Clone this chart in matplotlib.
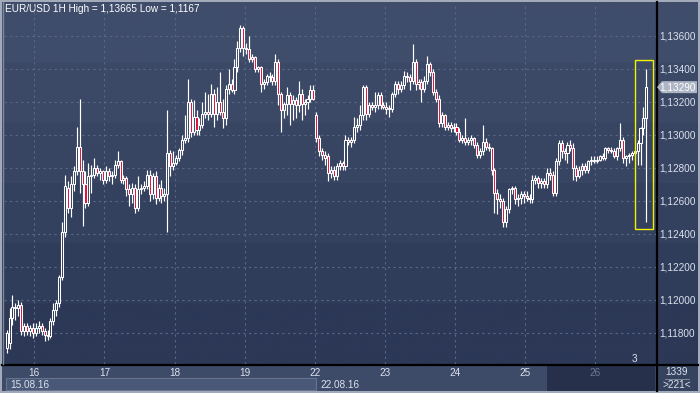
"""
EUR/USD 1H candlestick chart, 15.08.16 - 26.08.16
"""

import matplotlib
matplotlib.use('Agg')
import matplotlib.pyplot as plt
import numpy as np
from matplotlib.patches import Rectangle, Polygon
from matplotlib.colors import LinearSegmentedColormap

plt.rcParams['font.family'] = ['Liberation Sans', 'DejaVu Sans']

# ========== data: hourly OHLC ==========
opens = [
    # 15.08
    1.1171, 1.1174, 1.1189, 1.1196, 1.1195, 1.1197, 1.1181, 1.1184, 1.1181, 1.1183,
    # 16.08
    1.1180, 1.1183, 1.1184, 1.1181, 1.1179, 1.1178, 1.1187, 1.1194, 1.1198, 1.1214, 1.1241, 1.1268,
    1.1256, 1.1270, 1.1278, 1.1293, 1.1278, 1.1270, 1.1259, 1.1275, 1.1276, 1.1280, 1.1277, 1.1278,
    # 17.08
    1.1273, 1.1278, 1.1275, 1.1276, 1.1282, 1.1284, 1.1273, 1.1274, 1.1267, 1.1264, 1.1268, 1.1256,
    1.1267, 1.1268, 1.1269, 1.1276, 1.1264, 1.1275, 1.1262, 1.1268, 1.1263, 1.1264, 1.1289, 1.1281,
    # 18.08
    1.1283, 1.1286, 1.1291, 1.1297, 1.1298, 1.1320, 1.1302, 1.1311, 1.1303, 1.1306, 1.1313, 1.1314,
    1.1313, 1.1325, 1.1313, 1.1320, 1.1314, 1.1310, 1.1328, 1.1331, 1.1327, 1.1341, 1.1353, 1.1365,
    # 19.08
    1.1353, 1.1352, 1.1346, 1.1347, 1.1340, 1.1341, 1.1331, 1.1332, 1.1336, 1.1335, 1.1333, 1.1344,
    1.1325, 1.1315, 1.1319, 1.1324, 1.1319, 1.1321, 1.1318, 1.1325, 1.1319, 1.1320, 1.1322, 1.1327,
    # 22.08
    1.1312, 1.1298, 1.1290, 1.1288, 1.1287, 1.1277, 1.1279, 1.1275, 1.1281, 1.1283, 1.1281, 1.1297,
    1.1296, 1.1297, 1.1305, 1.1306, 1.1312, 1.1329, 1.1313, 1.1318, 1.1317, 1.1318, 1.1324, 1.1318,
    # 23.08
    1.1317, 1.1316, 1.1316, 1.1325, 1.1331, 1.1328, 1.1330, 1.1336, 1.1335, 1.1333, 1.1344, 1.1331,
    1.1332, 1.1328, 1.1333, 1.1343, 1.1338, 1.1326, 1.1322, 1.1307, 1.1312, 1.1305, 1.1306, 1.1304,
    # 24.08
    1.1305, 1.1302, 1.1297, 1.1298, 1.1296, 1.1297, 1.1298, 1.1294, 1.1288, 1.1290, 1.1296, 1.1293,
    1.1292, 1.1279, 1.1265, 1.1261, 1.1260, 1.1247, 1.1255, 1.1267, 1.1268, 1.1261, 1.1262, 1.1264,
    # 25.08
    1.1263, 1.1262, 1.1261, 1.1273, 1.1274, 1.1271, 1.1272, 1.1270, 1.1277, 1.1276, 1.1265, 1.1284,
    1.1295, 1.1290, 1.1289, 1.1294, 1.1292, 1.1280, 1.1275, 1.1279, 1.1281, 1.1279, 1.1284, 1.1285,
    # 26.08
    1.1284, 1.1285, 1.1287, 1.1286, 1.1292, 1.1291, 1.1290, 1.1287, 1.1292, 1.1297, 1.1286, 1.1287,
    1.1288, 1.1289, 1.1290, 1.1295, 1.1304, 1.1310,
]
highs = [
    1.1182, 1.1195, 1.1203, 1.1198, 1.1200, 1.1199, 1.1186, 1.1186, 1.1185, 1.1186,
    1.1186, 1.1187, 1.1186, 1.1183, 1.1182, 1.1189, 1.1198, 1.1200, 1.1215, 1.1247, 1.1276, 1.1272,
    1.1275, 1.1281, 1.1305, 1.1322, 1.1285, 1.1278, 1.1283, 1.1282, 1.1286, 1.1282, 1.1280, 1.1279,
    1.1281, 1.1280, 1.1278, 1.1285, 1.1290, 1.1285, 1.1276, 1.1275, 1.1270, 1.1271, 1.1270, 1.1275,
    1.1270, 1.1272, 1.1279, 1.1279, 1.1277, 1.1278, 1.1270, 1.1273, 1.1268, 1.1315, 1.1291, 1.1290,
    1.1288, 1.1292, 1.1300, 1.1312, 1.1334, 1.1322, 1.1321, 1.1315, 1.1310, 1.1320, 1.1326, 1.1325,
    1.1331, 1.1328, 1.1329, 1.1338, 1.1322, 1.1330, 1.1340, 1.1334, 1.1346, 1.1357, 1.13665, 1.1366,
    1.1356, 1.1360, 1.1349, 1.1348, 1.1342, 1.1342, 1.1334, 1.1337, 1.1338, 1.1337, 1.1349, 1.1346,
    1.1326, 1.1320, 1.1329, 1.1326, 1.1324, 1.1323, 1.1333, 1.1328, 1.1322, 1.1324, 1.1330, 1.1330,
    1.1314, 1.1300, 1.1292, 1.1290, 1.1289, 1.1281, 1.1281, 1.1283, 1.1285, 1.1284, 1.1300, 1.1299,
    1.1299, 1.1311, 1.1310, 1.1318, 1.1330, 1.1330, 1.1320, 1.1320, 1.1326, 1.1326, 1.1326, 1.1320,
    1.1320, 1.1318, 1.1326, 1.1333, 1.1333, 1.1333, 1.1339, 1.1338, 1.1337, 1.1355, 1.1346, 1.1334,
    1.1334, 1.1336, 1.1348, 1.1344, 1.1340, 1.1328, 1.1324, 1.1314, 1.1313, 1.1308, 1.1308, 1.1307,
    1.1307, 1.1304, 1.1300, 1.1310, 1.1299, 1.1300, 1.1299, 1.1296, 1.1292, 1.1306, 1.1298, 1.1295,
    1.1293, 1.1280, 1.1267, 1.1264, 1.1262, 1.1257, 1.1268, 1.1269, 1.1269, 1.1264, 1.1266, 1.1266,
    1.1266, 1.1264, 1.1276, 1.1276, 1.1275, 1.1274, 1.1274, 1.1280, 1.1280, 1.1278, 1.1286, 1.1297,
    1.1297, 1.1292, 1.1296, 1.1297, 1.1295, 1.1282, 1.1281, 1.1283, 1.1283, 1.1285, 1.1287, 1.1287,
    1.1287, 1.1288, 1.1289, 1.1293, 1.1293, 1.1293, 1.1292, 1.1293, 1.1307, 1.1299, 1.1288, 1.1289,
    1.1290, 1.1291, 1.1297, 1.1305, 1.1317, 1.1340,
]
lows = [
    1.1168, 1.1170, 1.1185, 1.1188, 1.1190, 1.1179, 1.1178, 1.1179, 1.1178, 1.1177,
    1.1178, 1.1180, 1.1179, 1.1175, 1.1176, 1.1177, 1.1185, 1.1190, 1.1196, 1.1212, 1.1238, 1.1253,
    1.1250, 1.1266, 1.1276, 1.1265, 1.1245, 1.1256, 1.1257, 1.1265, 1.1274, 1.1275, 1.1273, 1.1270,
    1.1271, 1.1272, 1.1270, 1.1274, 1.1280, 1.1271, 1.1270, 1.1263, 1.1257, 1.1259, 1.1253, 1.1254,
    1.1264, 1.1266, 1.1267, 1.1260, 1.1261, 1.1258, 1.1260, 1.1259, 1.1260, 1.1241, 1.1275, 1.1279,
    1.1282, 1.1284, 1.1288, 1.1295, 1.1296, 1.1299, 1.1300, 1.1300, 1.1300, 1.1304, 1.1310, 1.1309,
    1.1311, 1.1305, 1.1309, 1.1312, 1.1304, 1.1306, 1.1325, 1.1326, 1.1325, 1.1338, 1.1350, 1.1348,
    1.1349, 1.1344, 1.1344, 1.1338, 1.1338, 1.1326, 1.1328, 1.1330, 1.1332, 1.1330, 1.1330, 1.1318,
    1.1302, 1.1310, 1.1312, 1.1306, 1.1309, 1.1310, 1.1314, 1.1309, 1.1312, 1.1316, 1.1320, 1.1321,
    1.1296, 1.1287, 1.1285, 1.1282, 1.1272, 1.1274, 1.1273, 1.1273, 1.1279, 1.1279, 1.1279, 1.1294,
    1.1293, 1.1295, 1.1302, 1.1303, 1.1309, 1.1309, 1.1311, 1.1315, 1.1314, 1.1316, 1.1316, 1.1316,
    1.1313, 1.1311, 1.1314, 1.1323, 1.1325, 1.1326, 1.1328, 1.1332, 1.1327, 1.1331, 1.1327, 1.1328,
    1.1320, 1.1326, 1.1331, 1.1336, 1.1324, 1.1320, 1.1305, 1.1305, 1.1303, 1.1303, 1.1302, 1.1302,
    1.1300, 1.1296, 1.1295, 1.1294, 1.1294, 1.1294, 1.1292, 1.1286, 1.1286, 1.1288, 1.1291, 1.1290,
    1.1276, 1.1253, 1.1252, 1.1256, 1.1244, 1.1244, 1.1253, 1.1264, 1.1258, 1.1257, 1.1258, 1.1259,
    1.1260, 1.1259, 1.1259, 1.1270, 1.1268, 1.1268, 1.1268, 1.1268, 1.1273, 1.1263, 1.1263, 1.1282,
    1.1286, 1.1285, 1.1283, 1.1290, 1.1273, 1.1272, 1.1274, 1.1276, 1.1277, 1.1277, 1.1282, 1.1283,
    1.1283, 1.1284, 1.1285, 1.1285, 1.1289, 1.1289, 1.1286, 1.1285, 1.1290, 1.1283, 1.1281, 1.1283,
    1.1285, 1.1287, 1.1282, 1.1282, 1.1300, 1.1247,
]
closes = [
    1.1180, 1.1189, 1.1196, 1.1195, 1.1197, 1.1181, 1.1184, 1.1181, 1.1183, 1.1180,
    1.1183, 1.1184, 1.1181, 1.1179, 1.1178, 1.1187, 1.1194, 1.1198, 1.1214, 1.1241, 1.1269, 1.1256,
    1.1270, 1.1278, 1.1293, 1.1278, 1.1270, 1.1259, 1.1275, 1.1276, 1.1280, 1.1277, 1.1278, 1.1273,
    1.1278, 1.1275, 1.1276, 1.1282, 1.1284, 1.1273, 1.1274, 1.1267, 1.1264, 1.1268, 1.1256, 1.1267,
    1.1268, 1.1269, 1.1276, 1.1264, 1.1275, 1.1262, 1.1268, 1.1263, 1.1264, 1.1289, 1.1281, 1.1283,
    1.1286, 1.1291, 1.1297, 1.1298, 1.1320, 1.1302, 1.1311, 1.1303, 1.1306, 1.1313, 1.1314, 1.1313,
    1.1325, 1.1313, 1.1320, 1.1314, 1.1310, 1.1328, 1.1331, 1.1327, 1.1341, 1.1353, 1.1365, 1.1353,
    1.1352, 1.1346, 1.1347, 1.1340, 1.1341, 1.1331, 1.1332, 1.1336, 1.1335, 1.1333, 1.1344, 1.1325,
    1.1315, 1.1319, 1.1324, 1.1319, 1.1321, 1.1318, 1.1325, 1.1319, 1.1320, 1.1322, 1.1327, 1.1322,
    1.1298, 1.1290, 1.1288, 1.1286, 1.1277, 1.1279, 1.1275, 1.1281, 1.1283, 1.1281, 1.1297, 1.1296,
    1.1297, 1.1305, 1.1306, 1.1312, 1.1329, 1.1313, 1.1318, 1.1317, 1.1318, 1.1324, 1.1318, 1.1317,
    1.1316, 1.1316, 1.1325, 1.1331, 1.1328, 1.1330, 1.1336, 1.1335, 1.1333, 1.1344, 1.1331, 1.1332,
    1.1328, 1.1333, 1.1343, 1.1338, 1.1326, 1.1322, 1.1307, 1.1312, 1.1305, 1.1306, 1.1304, 1.1305,
    1.1302, 1.1297, 1.1298, 1.1296, 1.1297, 1.1298, 1.1294, 1.1288, 1.1290, 1.1296, 1.1293, 1.1292,
    1.1279, 1.1265, 1.1261, 1.1260, 1.1247, 1.1255, 1.1267, 1.1268, 1.1261, 1.1262, 1.1264, 1.1263,
    1.1262, 1.1261, 1.1273, 1.1274, 1.1271, 1.1272, 1.1270, 1.1277, 1.1276, 1.1265, 1.1284, 1.1295,
    1.1290, 1.1289, 1.1294, 1.1292, 1.1280, 1.1275, 1.1279, 1.1281, 1.1279, 1.1284, 1.1285, 1.1284,
    1.1285, 1.1287, 1.1286, 1.1292, 1.1291, 1.1290, 1.1287, 1.1292, 1.1297, 1.1286, 1.1287, 1.1288,
    1.1289, 1.1290, 1.1295, 1.1304, 1.1310, 1.1329,
]

day_labels = ['16', '17', '18', '19', '22', '23', '24', '25', '26']
day_first_bar = [10, 34, 58, 82, 106, 130, 154, 178, 202]
week_labels = ['15.08.16', '22.08.16']
price_ticks = [1.118, 1.120, 1.122, 1.124, 1.126, 1.128, 1.130, 1.132, 1.134, 1.136]
last_price = 1.1329
title = 'EUR/USD 1H High = 1,13665 Low = 1,1167'

# ========== layout (pixels) ==========
W, H = 700, 393
PL, PR, PT, PB = 4, 656, 3, 364   # plot area
Y_TOP, Y_BOT = 1.13800, 1.11612

BG_TOP, BG_BOT = '#3F4D6B', '#2C3856'
GRID = '#5A6785'
TXT = '#DCE2EE'
RED = '#E0103A'
FS = 7.2

fig = plt.figure(figsize=(W / 100, H / 100), dpi=100)
fig.patch.set_facecolor('#A3ABBB')

# decoration canvas in pixel coordinates
bg = fig.add_axes([0, 0, 1, 1])
bg.set_xlim(0, W)
bg.set_ylim(H, 0)
bg.axis('off')

# stepped gradient like the original
steps = 6
grad = np.floor(np.linspace(0, 1, 400) * steps) / (steps - 1)
grad = np.clip(grad, 0, 1)[:, None]
cmap = LinearSegmentedColormap.from_list('bgc', [BG_TOP, BG_BOT])
bg.imshow(grad, extent=(2, PR, PB, 2), cmap=cmap, aspect='auto', zorder=0)
bg.imshow(grad, extent=(PR, W - 2, PB, 2), cmap=cmap, aspect='auto', zorder=0)

# bottom strips
bg.add_patch(Rectangle((2, PB), PR - 2, H - 2 - PB, facecolor='#3D4A68', edgecolor='none', zorder=1))
bg.add_patch(Rectangle((6, 378), 310, 12, facecolor='#4A5877', edgecolor='#66728E', lw=0.8, zorder=2))
bg.add_patch(Rectangle((547, 365.5), 108, 25, facecolor='#26304A', edgecolor='none', zorder=2))
bg.add_patch(Rectangle((PR, PB), W - 2 - PR, H - 2 - PB, facecolor='#36435F', edgecolor='none', zorder=1))

# separator lines
bg.plot([PR + 0.5, PR + 0.5], [2, H - 2], color='black', lw=1.6, zorder=5)
bg.plot([2, W - 2], [PB + 0.5, PB + 0.5], color='black', lw=1.6, zorder=5)
bg.plot([3, 3], [2, PB], color='#7F899E', lw=1.0, zorder=5)

# ========== candles ==========
ax = fig.add_axes([PL / W, (H - PB) / H, (PR - PL) / W, (PB - PT) / H])
ax.patch.set_alpha(0)
for s in ax.spines.values():
    s.set_visible(False)

o = np.array(opens)
h = np.array(highs)
l = np.array(lows)
c = np.array(closes)
x = np.arange(len(c))

ax.set_xlim(-0.9, 222.3)
ax.set_ylim(Y_BOT, Y_TOP)

for p in price_ticks:
    ax.axhline(p, color=GRID, lw=0.8, ls=(0, (2, 3)), zorder=1)
for d in day_first_bar:
    ax.axvline(d - 0.5, color=GRID, lw=0.8, ls=(0, (2, 3)), zorder=1)

top = np.maximum(o, c)
bot = np.minimum(o, c)
ax.vlines(x, top, h, color='white', lw=0.85, zorder=3)
ax.vlines(x, l, bot, color='white', lw=0.85, zorder=3)
body = np.maximum(top - bot, 0.00004)
up = c >= o
ax.bar(x[up], body[up], bottom=bot[up], width=0.7, facecolor='none',
       edgecolor='white', lw=0.75, zorder=4)
ax.bar(x[~up], body[~up], bottom=bot[~up], width=0.7, facecolor=RED,
       edgecolor='white', lw=0.75, zorder=4)

# yellow box round the last candle
ax.add_patch(Rectangle((215.1, 1.12430), 6.1, 0.01024, facecolor='none',
                       edgecolor='#F2F200', lw=1.0, zorder=5))

# axis labels
ax.yaxis.tick_right()
ax.set_yticks(price_ticks)
ax.set_yticklabels([f'{p:.5f}'.replace('.', ',') for p in price_ticks])
ax.tick_params(axis='y', length=0, pad=2.5, labelsize=FS, labelcolor=TXT)
ax.set_xticks([d - 0.5 for d in day_first_bar])
ax.set_xticklabels(day_labels)
ax.tick_params(axis='x', length=0, pad=3, labelsize=FS, labelcolor=TXT)
ax.get_xticklabels()[-1].set_color('#6D7994')

# current price marker
yp = PT + (Y_TOP - last_price) / (Y_TOP - Y_BOT) * (PB - PT)
bg.add_patch(Polygon([(657, yp), (662, yp - 6), (697, yp - 6), (697, yp + 6), (662, yp + 6)],
                     closed=True, facecolor='#AEB5C4', edgecolor='none', zorder=6))
bg.text(678, yp, f'{last_price:.5f}'.replace('.', ','), ha='center', va='center',
        fontsize=FS, color='white', zorder=7)

# texts
bg.text(5, 9.5, title, ha='left', va='center', fontsize=FS, color='white', zorder=6)
bg.text(634, 359, '3', ha='center', va='center', fontsize=FS, color=TXT, zorder=6)
bg.text(10, 384.5, week_labels[0], ha='left', va='center', fontsize=FS, color=TXT, zorder=6)
bg.text(320, 384.5, week_labels[1], ha='left', va='center', fontsize=FS, color=TXT, zorder=6)
bg.text(677, 372, '1339', ha='center', va='center', fontsize=FS, color=TXT, zorder=6)
bg.plot([665, 689], [378.5, 378.5], color='#8C96AA', lw=0.6, zorder=6)
bg.text(677, 385.5, '>221<', ha='center', va='center', fontsize=FS, color=TXT, zorder=6)

plt.savefig('out.png', dpi=100, facecolor=fig.get_facecolor())
print("chart saved: out.png")
plt.close()
